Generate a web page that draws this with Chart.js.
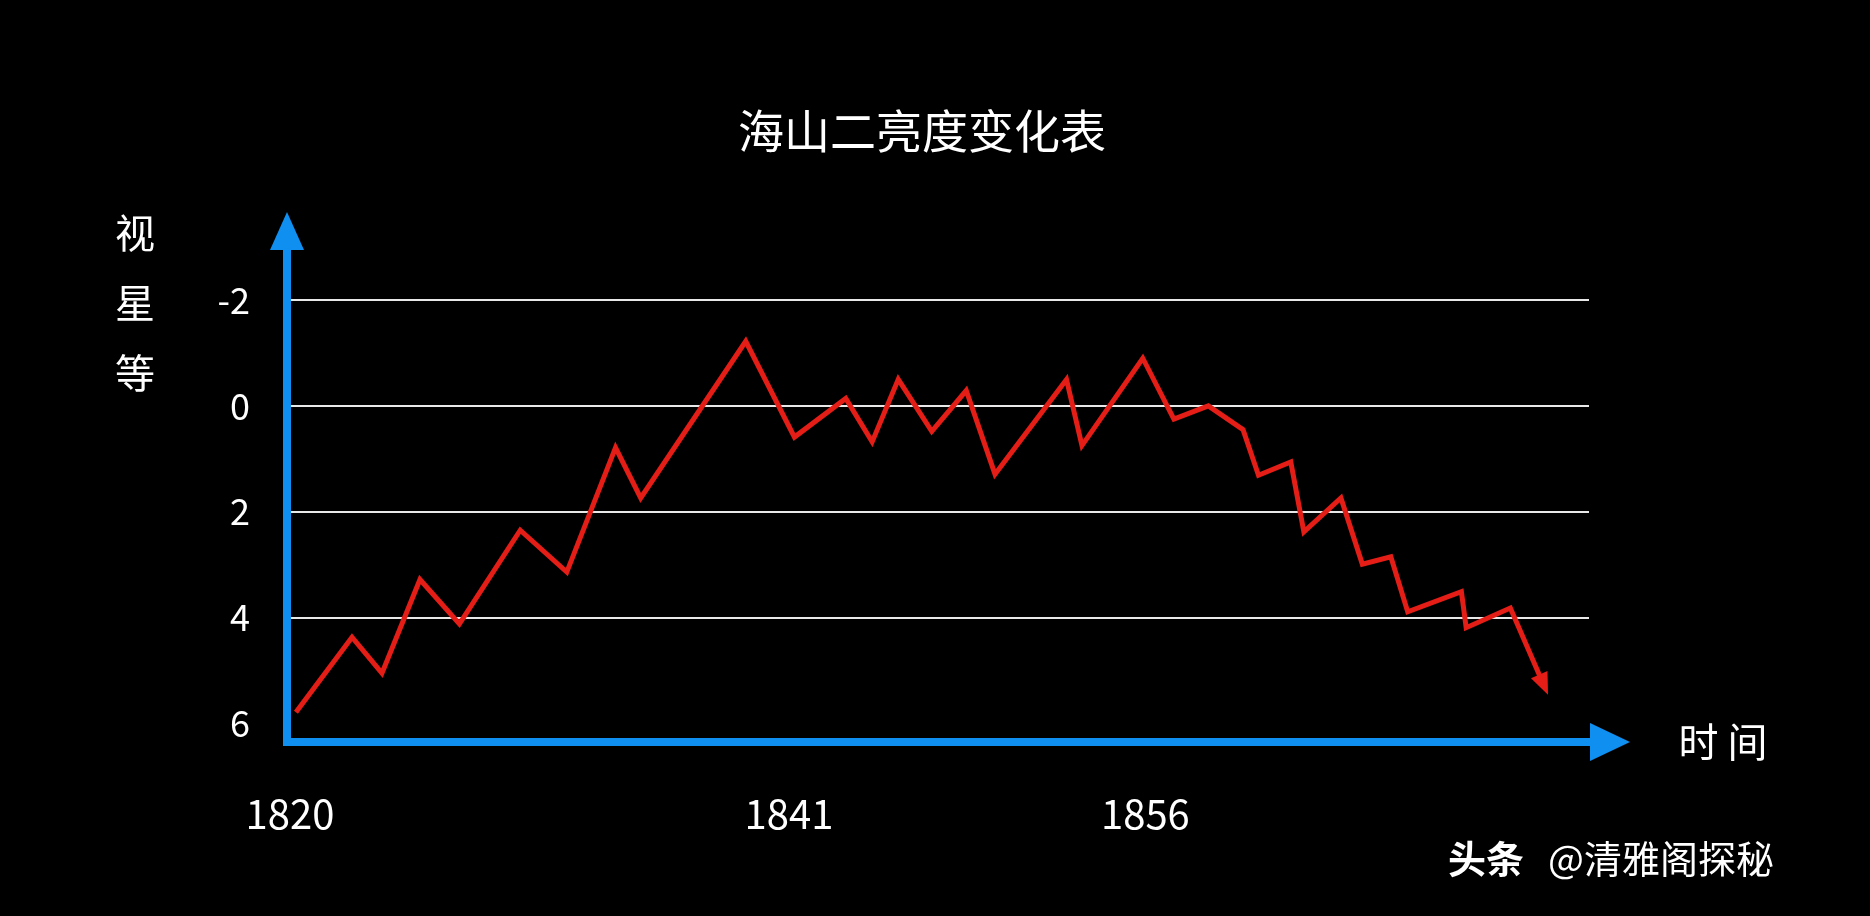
<!DOCTYPE html>
<html>
<head>
<meta charset="utf-8">
<script src="https://cdn.jsdelivr.net/npm/chart.js@4"></script>
<style>
  html, body { margin: 0; padding: 0; background: #000; }
  #wrap { width: 1870px; height: 916px; }
</style>
</head>
<body>
<div id="wrap"><canvas id="c"></canvas></div>
<script>
// data
const years = [1820.25, 1822.61, 1823.87, 1825.47, 1827.13, 1829.69, 1831.65, 1833.7, 1834.76, 1839.18,
  1841.23, 1843.39, 1844.5, 1845.6, 1847.01, 1848.46, 1849.67, 1852.68, 1853.33, 1855.89,
  1857.2, 1858.65, 1860.11, 1860.76, 1862.12, 1862.67, 1864.23, 1865.13, 1866.33, 1867.04,
  1869.3, 1869.5, 1871.36, 1872.81];
const magnitudes = [5.79, 4.37, 5.05, 3.28, 4.12, 2.35, 3.14, 0.79, 1.74, -1.22,
  0.59, -0.14, 0.68, -0.5, 0.48, -0.29, 1.29, -0.5, 0.75, -0.9,
  0.25, 0, 0.45, 1.31, 1.06, 2.38, 1.74, 2.99, 2.85, 3.89,
  3.51, 4.19, 3.82, 5.32];
const yearTicks = [1820, 1841, 1856];
const magTicks = [-2, 0, 2, 4, 6];

const FONT = '"Noto Sans CJK SC", "Noto Sans", sans-serif';
const BLUE = '#0f8ff0';
const RED = '#e41e17';

// axes arrows, line arrowhead and text
const decor = {
  id: 'decor',
  afterDatasetsDraw(chart) {
    const ctx = chart.ctx;
    const area = chart.chartArea;
    const x0 = 287, yBase = 742;
    ctx.save();
    // arrowhead at the end of the series
    const pts = chart.getDatasetMeta(0).data;
    const a = pts[pts.length - 2], b = pts[pts.length - 1];
    const ang = Math.atan2(b.y - a.y, b.x - a.x);
    ctx.fillStyle = RED;
    ctx.beginPath();
    ctx.moveTo(b.x + Math.cos(ang) * 8, b.y + Math.sin(ang) * 8);
    ctx.lineTo(b.x - Math.cos(ang) * 14 + Math.cos(ang + Math.PI / 2) * 9, b.y - Math.sin(ang) * 14 + Math.sin(ang + Math.PI / 2) * 9);
    ctx.lineTo(b.x - Math.cos(ang) * 14 - Math.cos(ang + Math.PI / 2) * 9, b.y - Math.sin(ang) * 14 - Math.sin(ang + Math.PI / 2) * 9);
    ctx.closePath();
    ctx.fill();
    // blue axes
    ctx.strokeStyle = BLUE;
    ctx.fillStyle = BLUE;
    ctx.lineWidth = 8;
    ctx.beginPath();
    ctx.moveTo(x0, yBase + 4);
    ctx.lineTo(x0, 245);
    ctx.moveTo(x0 - 4, yBase);
    ctx.lineTo(1592, yBase);
    ctx.stroke();
    ctx.beginPath();
    ctx.moveTo(x0, 212); ctx.lineTo(x0 - 17, 250); ctx.lineTo(x0 + 17, 250); ctx.closePath();
    ctx.fill();
    ctx.beginPath();
    ctx.moveTo(1630, yBase); ctx.lineTo(1590, yBase - 19); ctx.lineTo(1590, yBase + 19); ctx.closePath();
    ctx.fill();
    // text
    ctx.fillStyle = '#fff';
    ctx.textAlign = 'center';
    ctx.textBaseline = 'middle';
    ctx.font = '46px ' + FONT;
    ctx.fillText('海山二亮度变化表', 922, 131);
    ctx.font = '40px ' + FONT;
    ['视', '星', '等'].forEach((ch, i) => ctx.fillText(ch, 135, 233 + i * 70));
    ctx.fillText('时 间', 1723, 742);
    ctx.font = 'bold 38px ' + FONT;
    ctx.textAlign = 'left';
    ctx.fillText('头条', 1448, 859);
    ctx.font = '38px ' + FONT;
    ctx.fillText('@清雅阁探秘', 1548, 859);
    ctx.restore();
  }
};

new Chart(document.getElementById('c'), {
  type: 'line',
  data: {
    datasets: [{
      data: years.map((y, i) => ({ x: y, y: magnitudes[i] })),
      borderColor: RED,
      borderWidth: 5,
      pointRadius: 0,
      tension: 0,
      borderJoinStyle: 'miter'
    }]
  },
  options: {
    responsive: true,
    maintainAspectRatio: false,
    animation: false,
    layout: { padding: { top: 300, right: 281, left: 0, bottom: 0 } },
    plugins: { legend: { display: false }, tooltip: { enabled: false } },
    scales: {
      x: {
        type: 'linear',
        min: 1820,
        max: 1874.67,
        afterBuildTicks: s => { s.ticks = yearTicks.map(v => ({ value: v })); },
        afterFit: s => { s.height = 174; },
        grid: { display: false, drawTicks: false },
        border: { display: false },
        ticks: { color: '#fff', font: { family: FONT, size: 40 }, padding: 48, callback: v => String(v) }
      },
      y: {
        reverse: true,
        min: -2,
        max: 6.35,
        afterBuildTicks: s => { s.ticks = magTicks.map(v => ({ value: v })); },
        afterFit: s => { s.width = 290; },
        grid: {
          drawTicks: false,
          lineWidth: 2,
          color: c => (c.tick && c.tick.value === 6 ? 'rgba(0,0,0,0)' : '#e8e8e8')
        },
        border: { display: false },
        ticks: { color: '#fff', font: { family: FONT, size: 36 }, padding: 40 }
      }
    }
  },
  plugins: [decor]
});
</script>
</body>
</html>
